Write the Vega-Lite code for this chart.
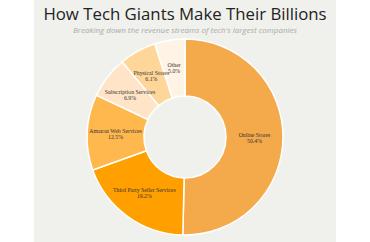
{
  "$schema": "https://vega.github.io/schema/vega-lite/v6.json",
  "width": 302,
  "height": 242,
  "autosize": {"type": "none"},
  "padding": {"left": 34, "right": 34, "top": 0, "bottom": 0},
  "background": "white",
  "view": {"fill": "#f0f0ec", "stroke": null},
  "title": {
    "text": "How Tech Giants Make Their Billions",
    "subtitle": "Breaking down the revenue streams of tech's largest companies",
    "anchor": "middle",
    "offset": -35,
    "font": "Open Sans",
    "fontSize": 16.8,
    "fontWeight": 500,
    "color": "#222222",
    "subtitleFont": "Open Sans",
    "subtitleFontStyle": "italic",
    "subtitleFontSize": 8,
    "subtitleColor": "#aaaaaa",
    "subtitlePadding": 3
  },
  "data": {
    "values": [
      {"segment": "Online Stores", "share": 0.504, "rank": 1},
      {"segment": "Third Party Seller Services", "share": 0.192, "rank": 2},
      {"segment": "Amazon Web Services", "share": 0.125, "rank": 3},
      {"segment": "Subscription Services", "share": 0.069, "rank": 4},
      {"segment": "Physical Stores", "share": 0.061, "rank": 5},
      {"segment": "Other", "share": 0.05, "rank": 6}
    ]
  },
  "encoding": {
    "theta": {"field": "share", "type": "quantitative", "stack": true},
    "order": {"field": "rank", "type": "quantitative"}
  },
  "layer": [
    {
      "mark": {"type": "arc", "innerRadius": 41, "radius": 98, "stroke": "white", "strokeWidth": 1.5, "yOffset": 16},
      "encoding": {
        "color": {
          "field": "segment",
          "type": "nominal",
          "legend": null,
          "scale": {
            "domain": ["Online Stores", "Third Party Seller Services", "Amazon Web Services", "Subscription Services", "Physical Stores", "Other"],
            "range": ["#f4a94b", "#ff9f00", "#ffb84d", "#ffe4c8", "#ffd699", "#fff3e6"]
          }
        }
      }
    },
    {
      "mark": {"type": "text", "radius": 69.5, "yOffset": 16, "dy": -3, "font": "Liberation Serif", "fontSize": 5.8, "color": "#333333"},
      "encoding": {"text": {"field": "segment", "type": "nominal"}}
    },
    {
      "mark": {"type": "text", "radius": 69.5, "yOffset": 16, "dy": 3, "font": "Liberation Serif", "fontSize": 5.8, "color": "#333333"},
      "encoding": {"text": {"field": "share", "type": "quantitative", "format": ".1%"}}
    }
  ]
}
